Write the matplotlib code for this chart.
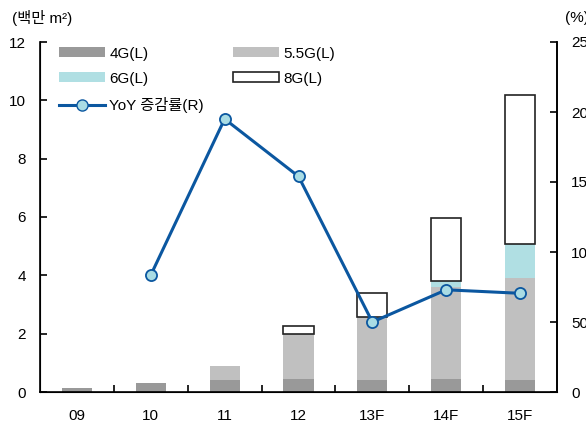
import matplotlib.pyplot as plt
from matplotlib.patches import Patch
from matplotlib.lines import Line2D
import numpy as np

plt.rcParams["font.family"] = ["Liberation Sans", "Noto Sans CJK KR", "DejaVu Sans"]
plt.rcParams["font.size"] = 11

years = ["09", "10", "11", "12", "13F", "14F", "15F"]
g4 = [0.15, 0.30, 0.42, 0.45, 0.41, 0.45, 0.41]
g55 = [0.0, 0.0, 0.47, 1.53, 2.17, 3.15, 3.50]
g6 = [0.0, 0.0, 0.0, 0.0, 0.0, 0.20, 1.18]
g8 = [0.0, 0.0, 0.0, 0.30, 0.83, 2.15, 5.08]
yoy = [np.nan, 83.5, 195.0, 154.0, 50.0, 73.0, 70.5]

c4 = "#999999"
c55 = "#c0c0c0"
c6 = "#b0dfe3"
line_c = "#0b57a0"
marker_c = "#a9dce4"

fig = plt.figure(figsize=(5.86, 4.26), dpi=100)
ax = fig.add_axes([40 / 586, 34 / 426, 517 / 586, 350 / 426])

x = np.arange(len(years))
w = 0.41
b55 = np.array(g4)
b6 = b55 + np.array(g55)
b8 = b6 + np.array(g6)

ax.bar(x, g4, w, color=c4, zorder=2)
ax.bar(x, g55, w, bottom=b55, color=c55, zorder=2)
ax.bar(x, g6, w, bottom=b6, color=c6, zorder=2)
has8 = np.array(g8) > 0
ax.bar(x[has8], np.array(g8)[has8], w, bottom=b8[has8], facecolor="white",
       edgecolor="#222222", linewidth=1.2, zorder=2)

ax.set_xlim(-0.5, 6.5)
ax.set_ylim(0, 12)
ax.set_yticks(range(0, 13, 2))
ax.set_xticks(x)
ax.set_xticklabels(years)
ax.set_xticks(np.arange(0.5, 6.5, 1), minor=True)
ax.tick_params(axis="x", which="major", length=0, pad=12)
ax.tick_params(axis="x", which="minor", direction="in", length=5, width=1.2)
ax.tick_params(axis="y", direction="in", length=5, width=1.2, pad=10)
ax.spines["top"].set_visible(False)
for s in ["left", "bottom", "right"]:
    ax.spines[s].set_linewidth(1.2)

ax2 = ax.twinx()
ax2.set_ylim(0, 250)
ax2.set_yticks(range(0, 251, 50))
ax2.tick_params(axis="y", direction="in", length=5, width=1.2, pad=10)
ax2.spines["top"].set_visible(False)
ax2.spines["right"].set_linewidth(1.2)
ax2.plot(x, yoy, color=line_c, linewidth=2.2, marker="o", markersize=8,
         markerfacecolor=marker_c, markeredgecolor=line_c, markeredgewidth=1.3,
         zorder=3)

fig.text(12 / 586, 1 - 18 / 426, "(백만 m²)", ha="left", va="center", fontsize=11)
fig.text(565 / 586, 1 - 18 / 426, "(%)", ha="left", va="center", fontsize=11)

handles = [
    Patch(facecolor=c4, edgecolor="none"),
    Patch(facecolor=c6, edgecolor="none"),
    Line2D([], [], color=line_c, linewidth=2.2, marker="o", markersize=8,
           markerfacecolor=marker_c, markeredgecolor=line_c),
    Patch(facecolor=c55, edgecolor="none"),
    Patch(facecolor="white", edgecolor="#222222", linewidth=1.2),
]
labels = ["4G(L)", "6G(L)", "YoY 증감률(R)", "5.5G(L)", "8G(L)"]
ax2.legend(handles, labels, ncol=2, loc="upper left", bbox_to_anchor=(0.025, 1.004),
           frameon=False, handlelength=3.0, handleheight=0.6, handletextpad=0.3,
           labelspacing=0.72, columnspacing=1.9, borderaxespad=0.0)

fig.savefig("out.png", dpi=100)
